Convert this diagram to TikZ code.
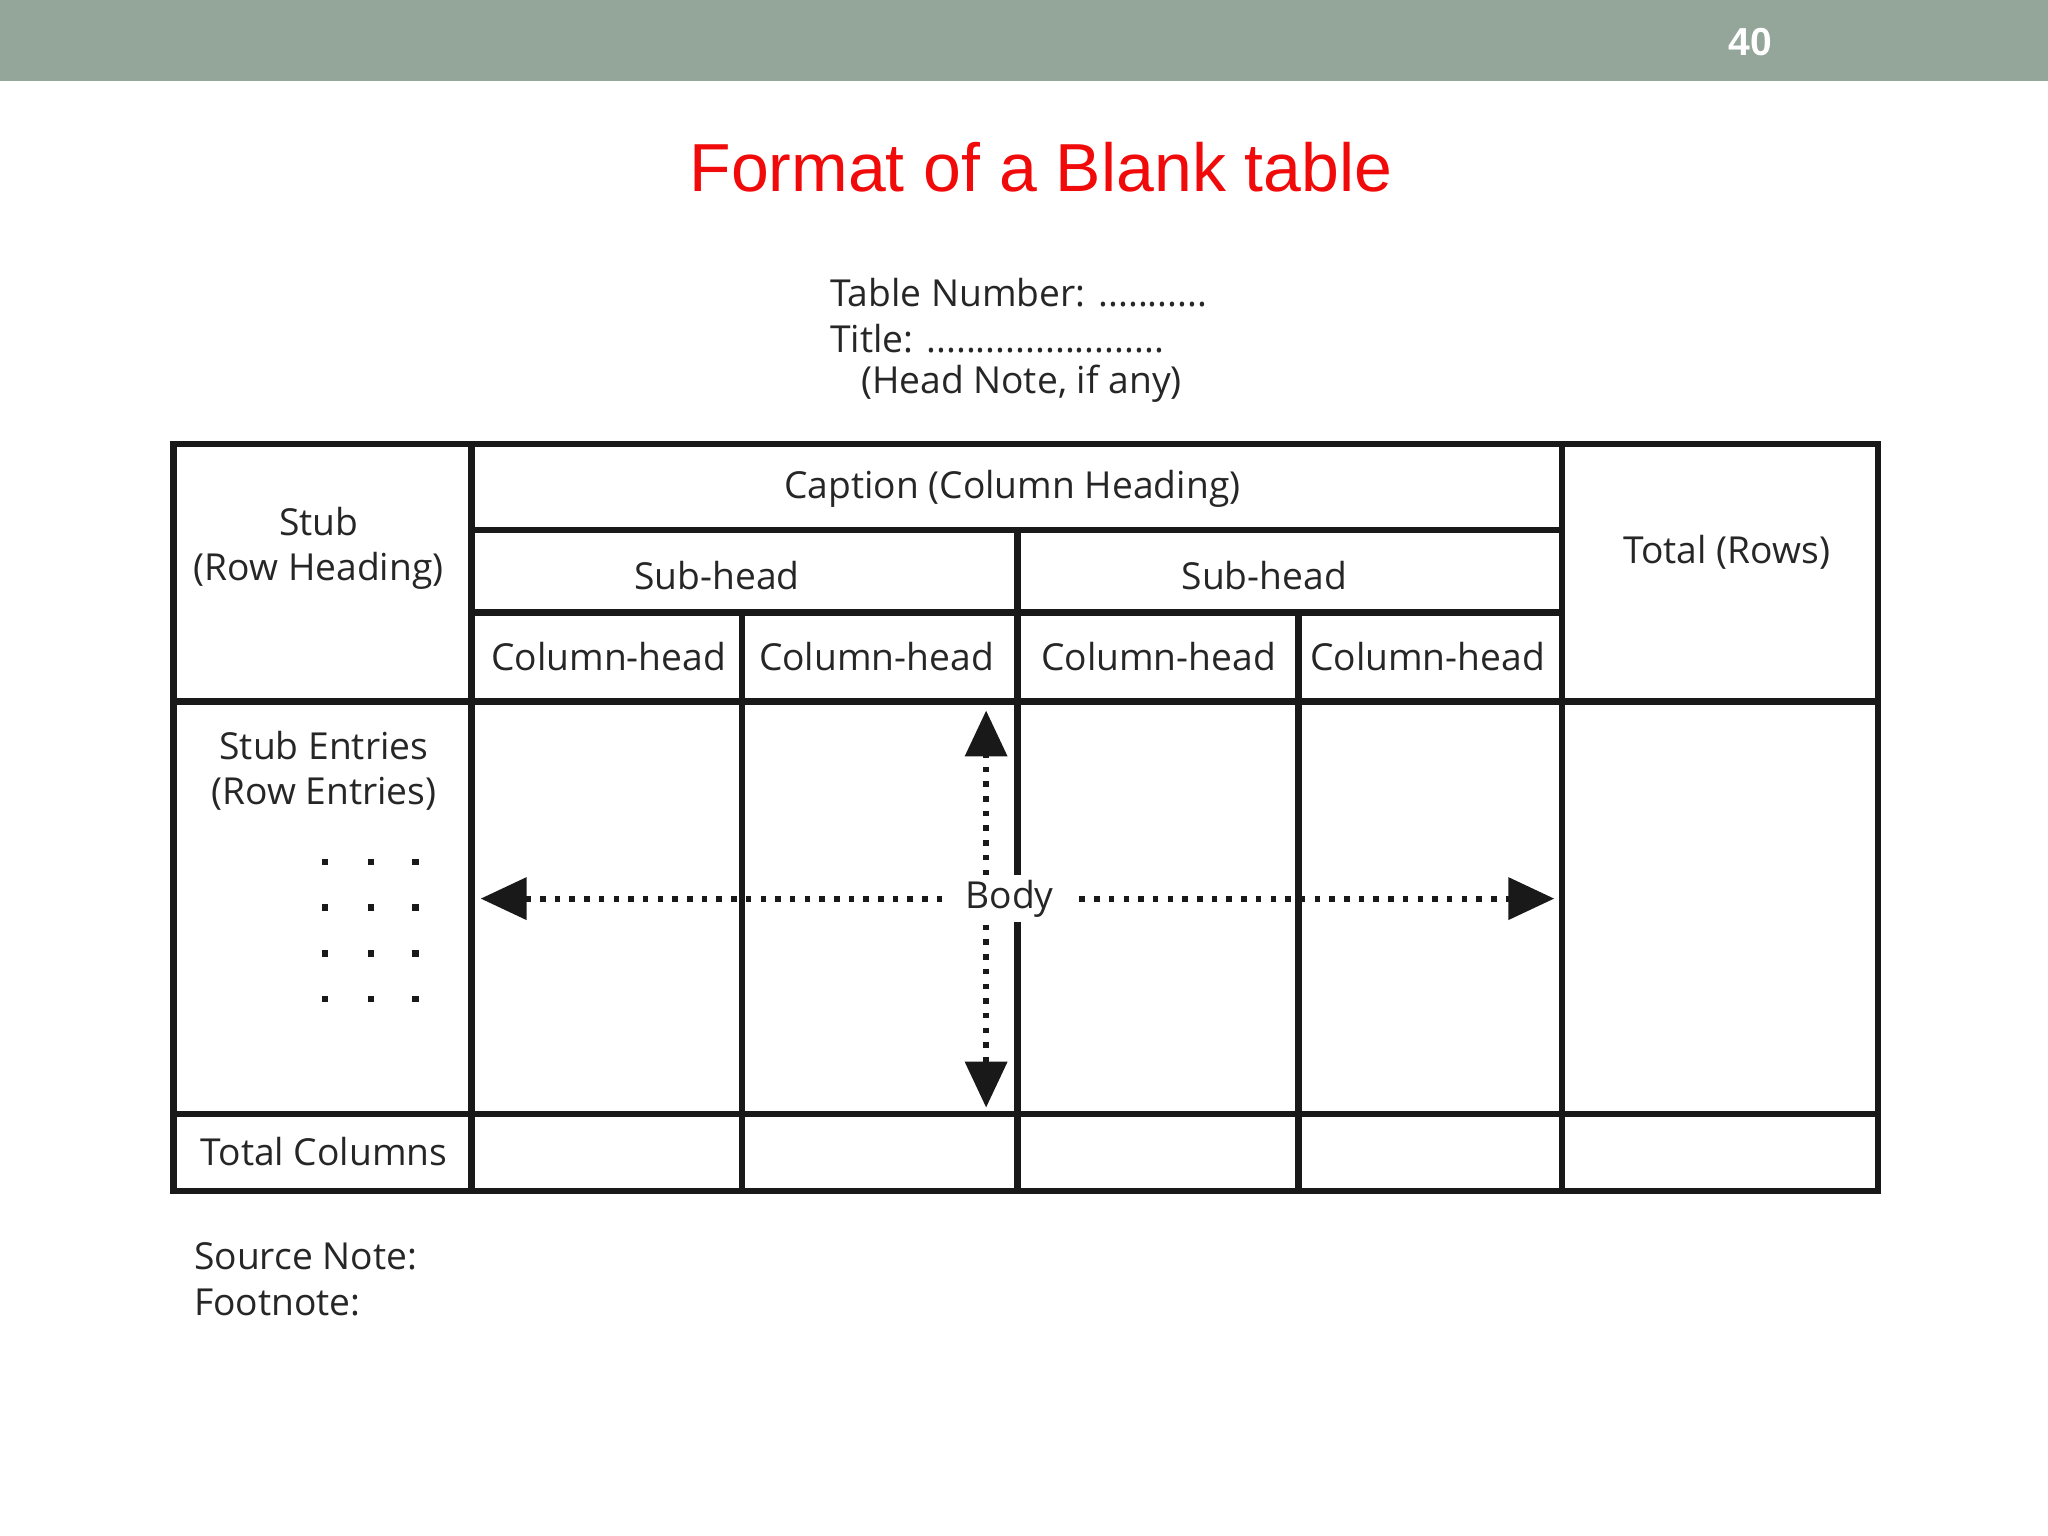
\documentclass[tikz,border=0pt]{standalone}
\usepackage{fontspec}
\setmainfont{Open Sans}
\newfontfamily\arialf{Liberation Sans}
\usetikzlibrary{arrows.meta}
\begin{document}
\begin{tikzpicture}[x=0.01cm,y=-0.01cm,
  tline/.style={line width=1.4pt,black!90},
  lbl/.style={font=\fontsize{8.1}{10}\selectfont,text=black!85,inner sep=0pt},
  dotline/.style={line width=1.3pt,dash pattern=on 1.2pt off 2pt,black!90},
  bigtip/.style={-{Triangle[length=10pt,width=9pt]}}]
\useasboundingbox (0,0) rectangle (1568,1176);
\fill[fill={rgb,255:red,148;green,165;blue,154}] (0,0) rectangle (1568,62);
\node[font=\arialf\bfseries\fontsize{8.5}{10}\selectfont,text=white] (pg) at (1340,32) {40};
\node[font=\arialf\fontsize{14.8}{18}\selectfont,text={rgb,255:red,240;green,10;blue,10}] (ttl) at (797,128) {Format of a Blank table};
\node[lbl,anchor=west] (tn) at (635,224) {Table Number: ...........};
\node[lbl,anchor=west] (ti) at (635,259) {Title: ........................};
\node[lbl] (hn) at (782,294) {(Head Note, if any)};
% table
\draw[tline] (133,340) rectangle (1438,912);
\draw[tline] (361,340) -- (361,912);
\draw[tline] (1196,340) -- (1196,912);
\draw[tline] (361,406) -- (1196,406);
\draw[tline] (361,469) -- (1196,469);
\draw[tline] (779,406) -- (779,912);
\draw[tline] (568,469) -- (568,912);
\draw[tline] (994,469) -- (994,912);
\draw[tline] (133,537) -- (1438,537);
\draw[tline] (133,853) -- (1438,853);
\node[lbl,align=center,font=\fontsize{8.1}{9.9}\selectfont] (stub) at (244,420) {Stub\\(Row Heading)};
\node[lbl] (cap) at (775,374) {Caption (Column Heading)};
\node[lbl] (sh1) at (549,441) {Sub-head};
\node[lbl] (sh2) at (968,441) {Sub-head};
\node[lbl] (c1) at (466,503) {Column-head};
\node[lbl] (c2) at (671,503) {Column-head};
\node[lbl] (c3) at (887,503) {Column-head};
\node[lbl] (c4) at (1093,503) {Column-head};
\node[lbl] (tr) at (1322,423) {Total (Rows)};
\node[lbl,align=center,font=\fontsize{8.1}{9.9}\selectfont] (se) at (248,590) {Stub Entries\\(Row Entries)};
\foreach \yy in {660,695,730,765}{\foreach \xx in {249,284,318}{\fill[black!90] (\xx-2.5,\yy-2.5) rectangle (\xx+2.5,\yy+2.5);}}
\node[lbl,fill=white,inner xsep=2pt,inner ysep=1pt] (body) at (773,688) {Body};
\node[lbl] (tc) at (248,882) {Total Columns};
\node[lbl,anchor=west] (sn) at (148,962) {Source Note:};
\node[lbl,anchor=west] (fn) at (148,997) {Footnote:};
\coordinate (la) at (368,688);
\coordinate (ra) at (1190,688);
\coordinate (ta) at (755,544);
\coordinate (ba) at (755,848);
\draw[dotline,bigtip] (body.west) ++(-10,0) -- (la);
\draw[dotline,bigtip] (body.east) ++(12,0) -- (ra);
\draw[dotline,bigtip] (755,670) -- (ta);
\draw[dotline,bigtip] (755,708) -- (ba);
\end{tikzpicture}
\end{document}
